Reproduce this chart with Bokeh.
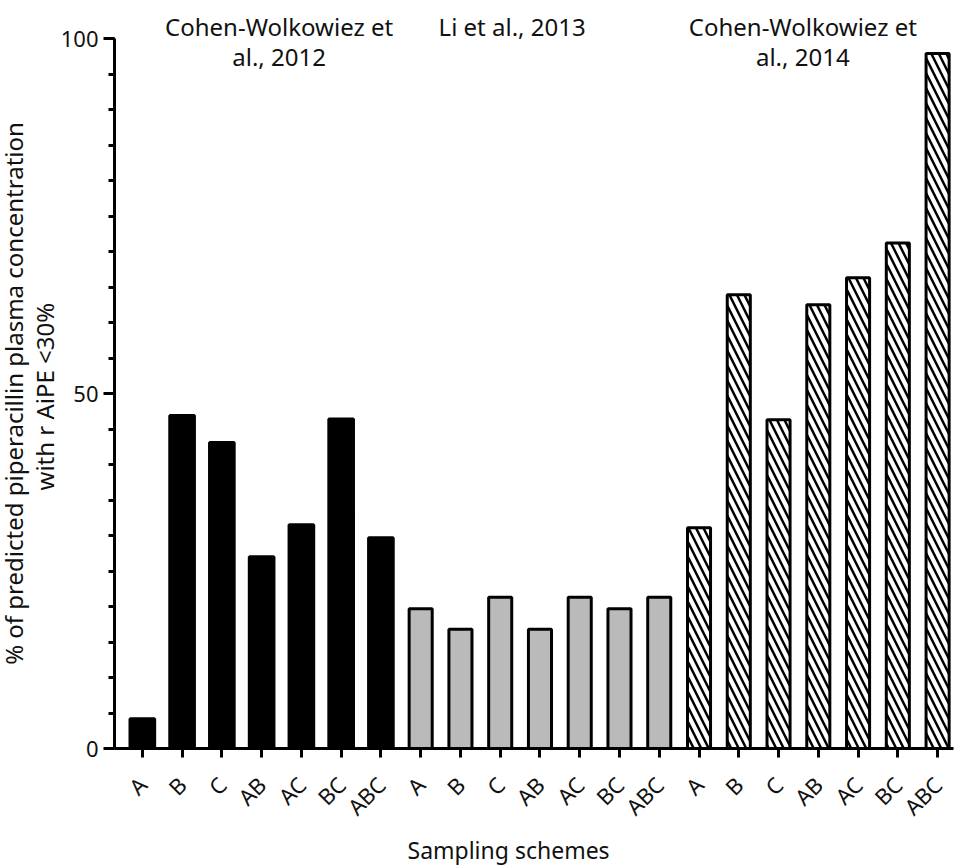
import math
from bokeh.plotting import figure
from bokeh.models import Label, FixedTicker, ColumnDataSource, Range1d, LinearAxis, Title
from bokeh.embed import file_html
from bokeh.resources import INLINE

schemes = ["A", "B", "C", "AB", "AC", "BC", "ABC"]
study_line1 = ["Cohen-Wolkowiez et", "Li et al., 2013", "Cohen-Wolkowiez et"]
study_line2 = ["al., 2012", "", "al., 2014"]
vals_2012 = [4.2, 46.9, 43.1, 27.0, 31.5, 46.4, 29.7]
vals_2013 = [19.7, 16.8, 21.3, 16.8, 21.3, 19.7, 21.3]
vals_2014 = [31.1, 63.9, 46.3, 62.5, 66.3, 71.2, 97.9]
y_ticks = [0, 50, 100]
y_minor = [5 * i for i in range(21)]
x_title = "Sampling schemes"
y_title = ["% of predicted piperacillin plasma concentration", "with r AiPE  <30%"]

FONT = "Noto Sans"
TXT = "#111111"

p = figure(width=959, height=866, output_backend="svg", toolbar_location=None,
           x_range=Range1d(-0.7, 20.4), y_range=Range1d(0, 100),
           min_border_left=60, min_border_right=6, min_border_top=38, min_border_bottom=118)
p.outline_line_color = None
p.xgrid.visible = False
p.ygrid.visible = False
p.background_fill_color = "white"

n = len(schemes)
groups = [vals_2012, vals_2013, vals_2014]
srcs = []
for g, vals in enumerate(groups):
    srcs.append(ColumnDataSource(dict(x=[g * n + i for i in range(n)], top=vals)))

p.vbar(x="x", top="top", width=0.62, source=srcs[0], fill_color="black", line_color="black", line_width=3)
p.vbar(x="x", top="top", width=0.58, source=srcs[1], fill_color="#bababa", line_color="black", line_width=3)
p.vbar(x="x", top="top", width=0.58, source=srcs[2], fill_color="white", line_color="black", line_width=3,
       hatch_pattern="left_diagonal_line", hatch_color="black", hatch_scale=15, hatch_weight=2.5)

# x axis
xa = p.xaxis[0]
xa.ticker = FixedTicker(ticks=list(range(3 * n)))
xa.major_label_overrides = {g * n + i: s for g in range(3) for i, s in enumerate(schemes)}
xa.major_label_orientation = math.pi / 4
xa.axis_line_width = 3
xa.major_tick_line_width = 3
xa.major_tick_out = 9
xa.major_tick_in = 0
xa.minor_tick_line_color = None
xa.major_label_text_font = FONT
xa.major_label_text_font_size = "22px"
xa.major_label_text_color = TXT
xa.major_label_standoff = 23

# y axis (second title line as the axis label, first line as a title beyond it)
ya = p.yaxis[0]
ya.ticker = FixedTicker(ticks=y_ticks, minor_ticks=y_minor)
ya.axis_line_width = 3
ya.major_tick_line_width = 3
ya.minor_tick_line_width = 3
ya.major_tick_out = 11
ya.major_tick_in = 0
ya.minor_tick_out = 6
ya.minor_tick_in = 0
ya.major_label_text_font = FONT
ya.major_label_text_font_size = "22px"
ya.major_label_text_color = TXT
ya.major_label_standoff = 5
ya.axis_label = y_title[1]
ya.axis_label_text_font = FONT
ya.axis_label_text_font_size = "24px"
ya.axis_label_text_font_style = "normal"
ya.axis_label_text_color = TXT
ya.axis_label_standoff = -3
p.add_layout(Title(text=y_title[0], align="center", standoff=-11,
                   text_font=FONT, text_font_size="24px", text_font_style="normal", text_color=TXT), "left")

# study labels: first line on an axis above the frame, second line inside
centers = [3.44, 9.30, 16.61]
top_axis = LinearAxis(ticker=FixedTicker(ticks=centers),
                      major_label_overrides={c: t for c, t in zip(centers, study_line1)},
                      axis_line_color=None, major_tick_line_color=None, minor_tick_line_color=None,
                      major_tick_out=0, major_tick_in=0, minor_tick_out=0, minor_tick_in=0,
                      major_label_text_font=FONT, major_label_text_font_size="24px",
                      major_label_text_color=TXT, major_label_standoff=-4)
p.add_layout(top_axis, "above")
for c, t in zip(centers, study_line2):
    if t:
        p.add_layout(Label(x=c, y=97.4, text=t, text_align="center", text_baseline="middle",
                           text_font=FONT, text_font_size="24px", text_color=TXT))

# x title
p.add_layout(Title(text=x_title, align="left", offset=293, standoff=-6,
                   text_font=FONT, text_font_size="23px", text_font_style="normal", text_color=TXT), "below")

open("out.html", "w").write(file_html(p, INLINE))
